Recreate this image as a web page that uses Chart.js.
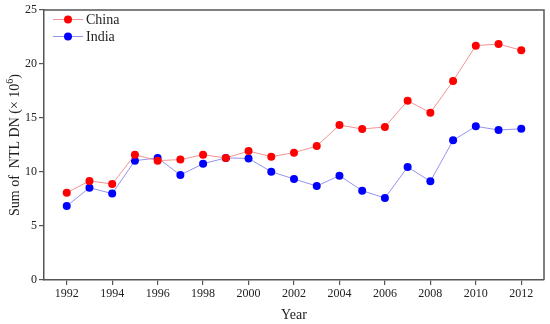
<!DOCTYPE html>
<html>
<head>
<meta charset="utf-8">
<script src="https://cdn.jsdelivr.net/npm/chart.js@4/dist/chart.umd.min.js"></script>
<style>
  html, body { margin: 0; padding: 0; background: #fff; }
  #wrap { width: 550px; height: 324px; }
</style>
</head>
<body>
<div id="wrap"><canvas id="moncanvas"></canvas></div>
<script>
const years = [1992, 1993, 1994, 1995, 1996, 1997, 1998, 1999, 2000, 2001, 2002,
               2003, 2004, 2005, 2006, 2007, 2008, 2009, 2010, 2011, 2012];
const china = [8.08, 9.17, 8.89, 11.6, 11.05, 11.15, 11.6, 11.3, 11.94, 11.42, 11.79,
               12.4, 14.35, 13.98, 14.17, 16.6, 15.49, 18.43, 21.7, 21.85, 21.27];
const india = [6.85, 8.55, 8.0, 11.05, 11.3, 9.72, 10.77, 11.3, 11.26, 10.03, 9.35,
               8.7, 9.66, 8.27, 7.59, 10.46, 9.14, 12.93, 14.23, 13.89, 14.0];
const xTicks = [1992, 1994, 1996, 1998, 2000, 2002, 2004, 2006, 2008, 2010, 2012];
const yTicks = [0, 5, 10, 15, 20, 25];

const axisColor = '#555';
const serif = "'Liberation Serif', 'Times New Roman', serif";

const toPoints = (vals) => years.map((y, i) => ({ x: y, y: vals[i] }));

// box on top / right + legend inside the plot
const boxAndLegend = {
    id: 'boxAndLegend',
    afterDraw(chart) {
        const ctx = chart.ctx;
        const a = chart.chartArea;
        ctx.save();
        ctx.strokeStyle = axisColor;
        ctx.lineWidth = 1.5;
        ctx.beginPath();
        ctx.moveTo(a.left, a.top);
        ctx.lineTo(a.right, a.top);
        ctx.lineTo(a.right, a.bottom);
        ctx.stroke();

        const items = [
            { label: 'China', line: 'rgba(240,120,120,0.8)', dot: '#ff0000' },
            { label: 'India', line: 'rgba(120,120,235,0.8)', dot: '#0000ff' }
        ];
        items.forEach((it, i) => {
            const yy = 19.5 + i * 17;
            ctx.strokeStyle = it.line;
            ctx.lineWidth = 1;
            ctx.beginPath();
            ctx.moveTo(53, yy);
            ctx.lineTo(83, yy);
            ctx.stroke();
            ctx.fillStyle = it.dot;
            ctx.beginPath();
            ctx.arc(68, yy, 4, 0, Math.PI * 2);
            ctx.fill();
            ctx.fillStyle = '#222';
            ctx.font = '14px ' + serif;
            ctx.textBaseline = 'middle';
            ctx.fillText(it.label, 86, yy + 1);
        });

        // y title with superscript
        ctx.translate(15, 145);
        ctx.rotate(-Math.PI / 2);
        ctx.fillStyle = '#222';
        ctx.textBaseline = 'middle';
        ctx.font = '14px ' + serif;
        const t1 = 'Sum of  NTL DN (\u00d7 10';
        const t2 = '6';
        const t3 = ')';
        ctx.font = '14px ' + serif;
        const w1 = ctx.measureText(t1).width;
        const w3 = ctx.measureText(t3).width;
        ctx.font = '10px ' + serif;
        const w2 = ctx.measureText(t2).width;
        const total = w1 + w2 + w3;
        let x0 = -total / 2;
        ctx.font = '14px ' + serif;
        ctx.fillText(t1, x0, 0);
        ctx.font = '10px ' + serif;
        ctx.fillText(t2, x0 + w1, -5);
        ctx.font = '14px ' + serif;
        ctx.fillText(t3, x0 + w1 + w2, 0);
        ctx.restore();
    }
};

const config = {
    type: 'line',
    data: {
        datasets: [{
            label: 'China',
            data: toPoints(china),
            borderColor: 'rgba(240,120,120,0.8)',
            backgroundColor: '#ff0000',
            pointBackgroundColor: '#ff0000',
            pointBorderWidth: 0,
            pointRadius: 4,
            borderWidth: 1,
            tension: 0
        }, {
            label: 'India',
            data: toPoints(india),
            borderColor: 'rgba(120,120,235,0.8)',
            backgroundColor: '#0000ff',
            pointBackgroundColor: '#0000ff',
            pointBorderWidth: 0,
            pointRadius: 4,
            borderWidth: 1,
            tension: 0
        }]
    },
    options: {
        responsive: true,
        maintainAspectRatio: false,
        animation: false,
        layout: { padding: { top: 10, right: 6, left: 0, bottom: 0 } },
        plugins: {
            legend: { display: false },
            tooltip: { enabled: false }
        },
        scales: {
            x: {
                type: 'linear',
                min: 1991,
                max: 2013,
                afterBuildTicks: (scale) => { scale.ticks = xTicks.map(v => ({ value: v })); },
                afterFit: (scale) => { scale.height = 44; },
                grid: { display: true, drawOnChartArea: false, drawTicks: true, tickLength: 5, color: axisColor, lineWidth: 1.2 },
                border: { display: true, color: axisColor, width: 1.5 },
                ticks: {
                    color: '#222',
                    font: { family: serif, size: 12 },
                    padding: 2,
                    maxRotation: 0,
                    callback: (v) => String(v)
                },
                title: {
                    display: true,
                    text: 'Year',
                    color: '#222',
                    font: { family: serif, size: 14 },
                    padding: { top: 4, bottom: 0 }
                }
            },
            y: {
                min: 0,
                max: 25,
                afterBuildTicks: (scale) => { scale.ticks = yTicks.map(v => ({ value: v })); },
                afterFit: (scale) => { scale.width = 44; },
                grid: { display: true, drawOnChartArea: false, drawTicks: true, tickLength: 5, color: axisColor, lineWidth: 1.2 },
                border: { display: true, color: axisColor, width: 1.5 },
                ticks: {
                    color: '#222',
                    font: { family: serif, size: 12 },
                    padding: 2
                }
            }
        }
    },
    plugins: [boxAndLegend]
};

const myChart = new Chart(document.querySelector('#moncanvas'), config);
</script>
</body>
</html>
